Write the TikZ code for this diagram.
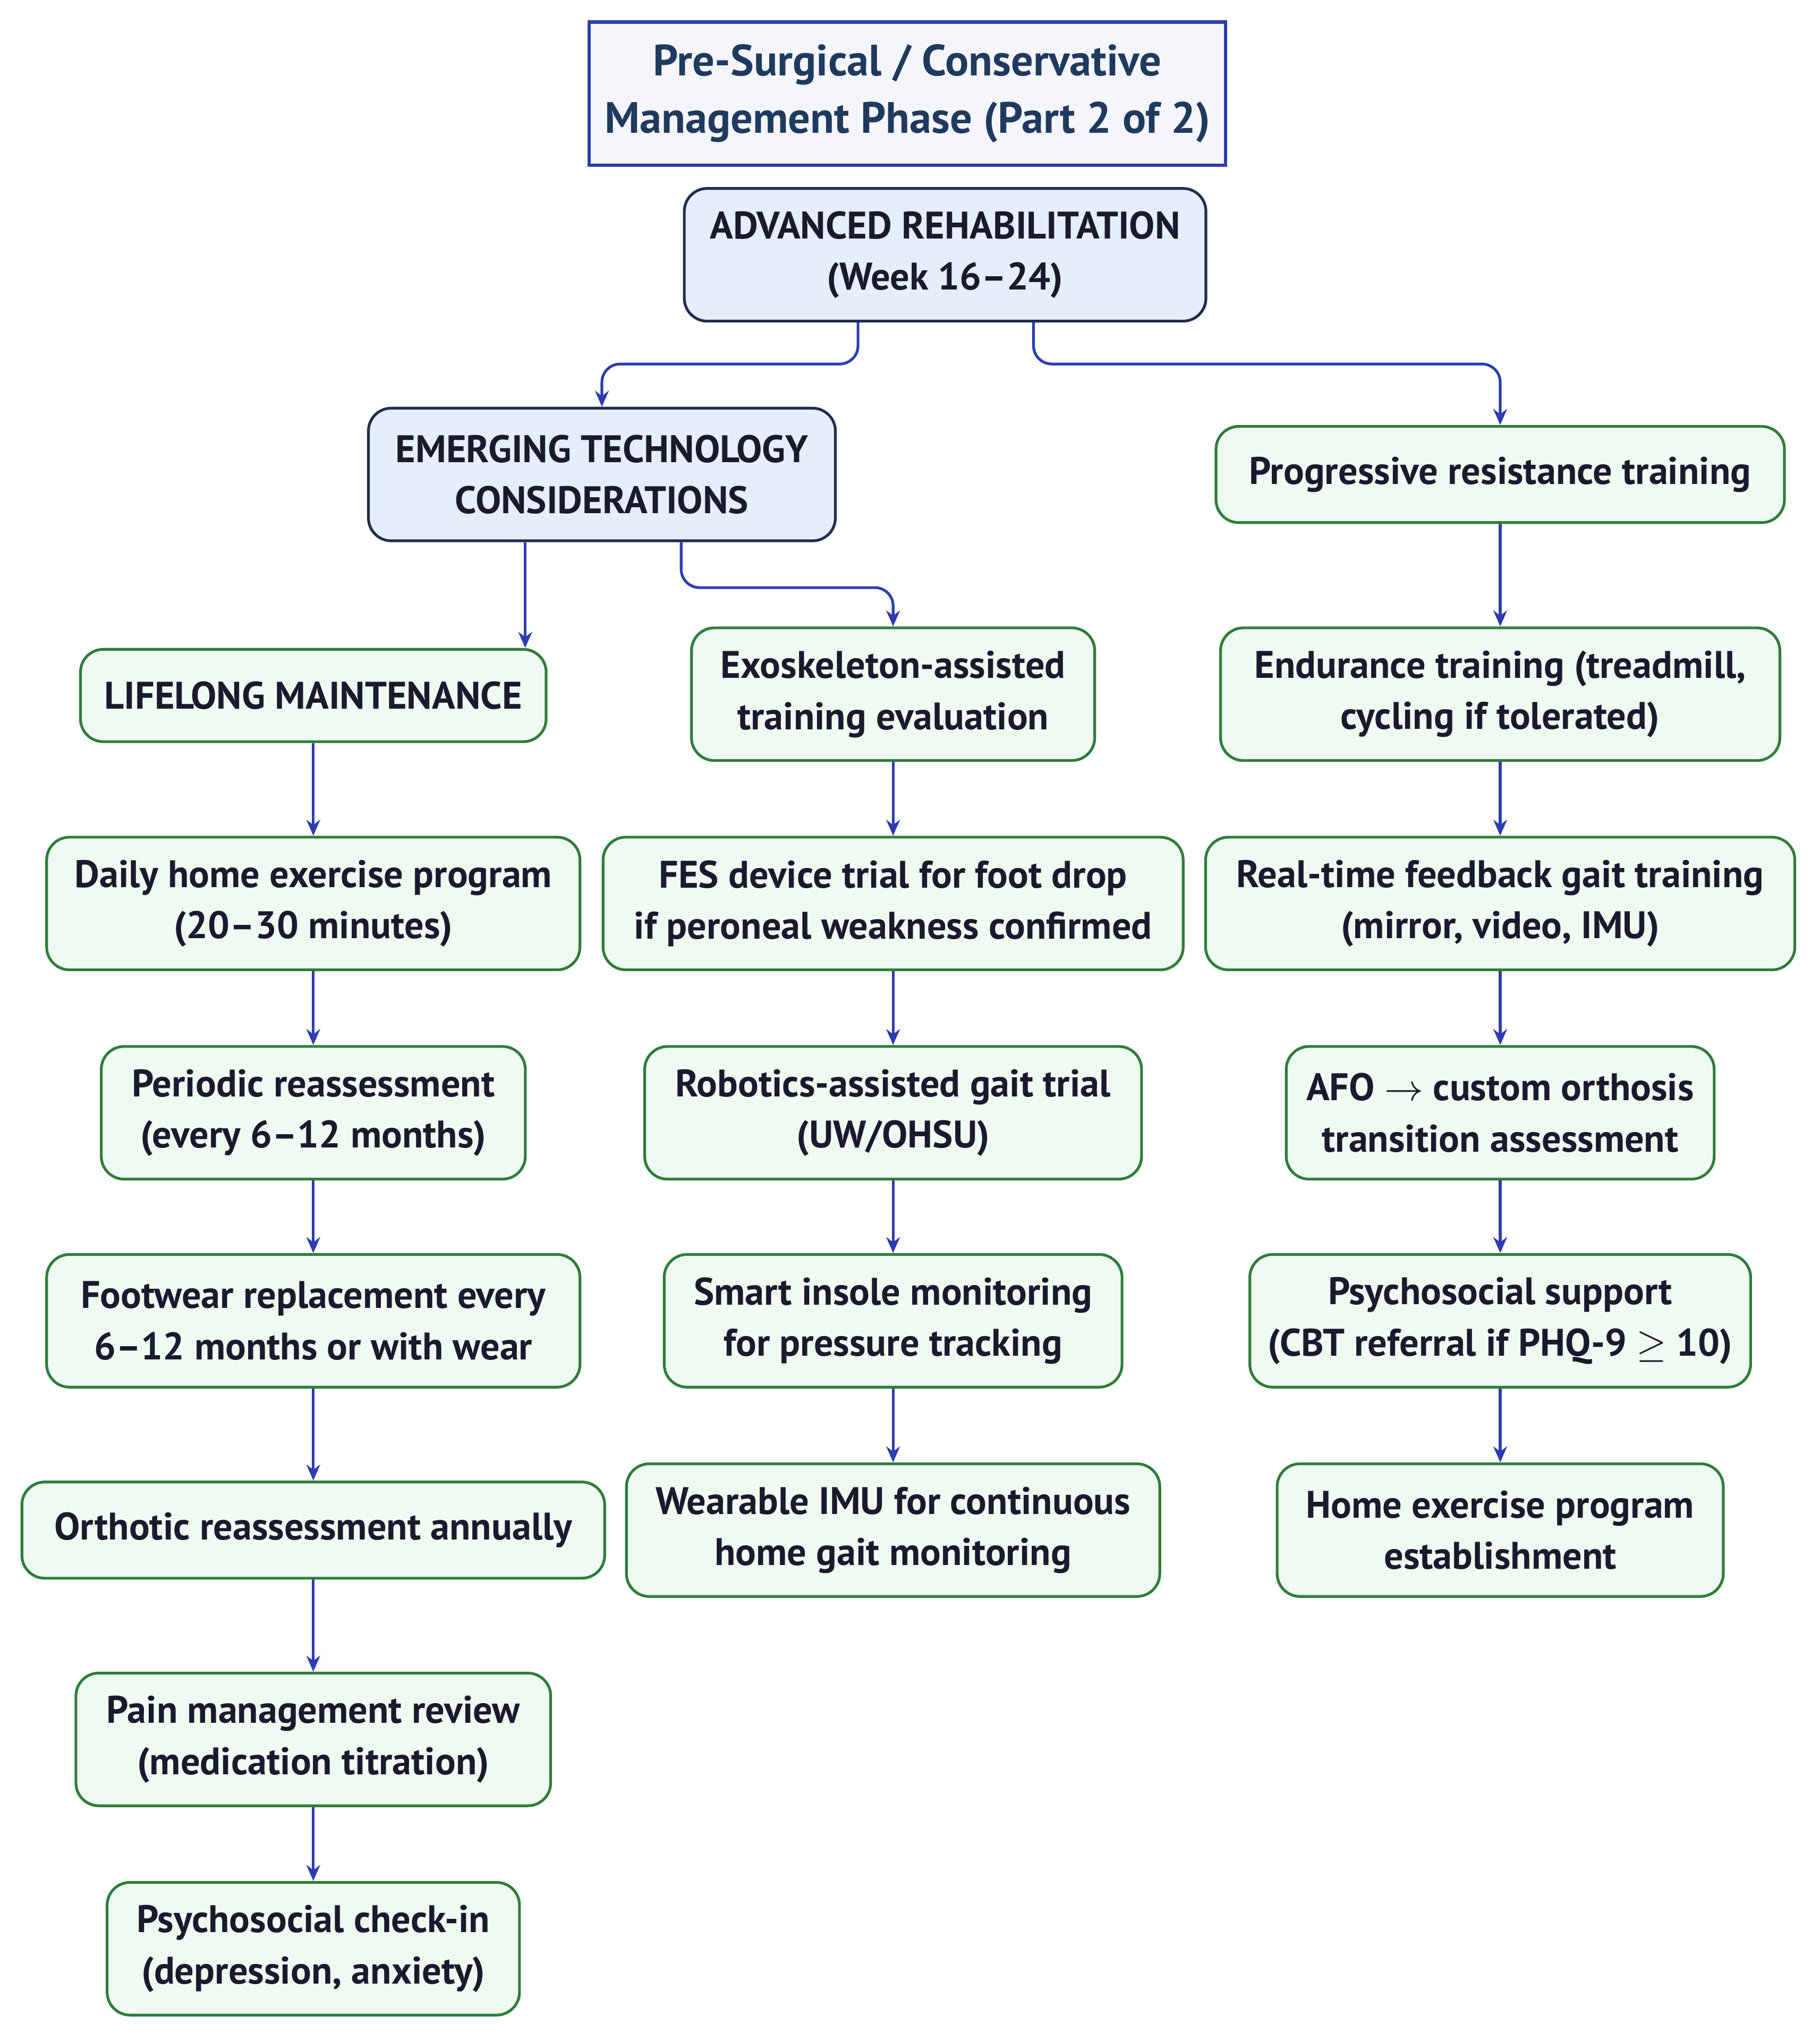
\documentclass[tikz,border=0pt]{standalone}
\usepackage{fontspec}
\setmainfont{PT Sans}
\usepackage{xcolor}
\usetikzlibrary{arrows.meta, positioning, calc}

\definecolor{greenfill}{HTML}{EFFAF1}
\definecolor{greenline}{HTML}{2E7D3A}
\definecolor{bluefill}{HTML}{E6EEFB}
\definecolor{blueline}{HTML}{1F2D4F}
\definecolor{titlefill}{HTML}{F5F6FC}
\definecolor{titleline}{HTML}{2D3DB0}
\definecolor{arrowblue}{HTML}{2D3DB0}
\definecolor{textdark}{HTML}{1A1A2E}
\definecolor{titletext}{HTML}{1F3A5F}

\begin{document}
\begin{tikzpicture}[
    x=0.01cm, y=-0.01cm,
    step box/.style={rectangle, rounded corners=5pt, draw=greenline, fill=greenfill, line width=0.6pt, align=center, text=textdark, font=\bfseries\fontsize{8.4}{11.2}\selectfont, minimum height=1.02cm, inner sep=2pt},
    phase box/.style={step box, draw=blueline, fill=bluefill},
    title box/.style={rectangle, draw=titleline, fill=titlefill, line width=0.7pt, align=center, text=titletext, font=\bfseries\fontsize{9.6}{12.6}\selectfont, minimum height=1.1cm},
    arrow/.style={-{Stealth[length=3.5pt, width=3pt]}, draw=arrowblue, line width=0.6pt, rounded corners=4pt}
]
\useasboundingbox (0,0) rectangle (1400,1570);

% Header
\node[title box, minimum width=4.87cm] (title) at (698,72) {Pre-Surgical / Conservative\\Management Phase (Part 2 of 2)};
\node[phase box, minimum width=4.01cm] (adv) at (727,196) {ADVANCED REHABILITATION\\(Week 16--24)};

% Second level
\node[phase box, minimum width=3.59cm] (emerg) at (463,365) {EMERGING TECHNOLOGY\\CONSIDERATIONS};
\node[step box, minimum width=4.37cm, minimum height=0.74cm] (prog) at (1154,365) {Progressive resistance training};

% Left column
\node[step box, minimum width=3.58cm, minimum height=0.71cm] (life) at (241,535) {LIFELONG MAINTENANCE};
\node[step box, minimum width=4.10cm] (daily) at (241,695) {Daily home exercise program\\(20--30 minutes)};
\node[step box, minimum width=3.26cm] (period) at (241,856) {Periodic reassessment\\(every 6--12 months)};
\node[step box, minimum width=4.10cm] (foot) at (241,1016) {Footwear replacement every\\6--12 months or with wear};
\node[step box, minimum width=4.48cm, minimum height=0.74cm] (orth) at (241,1177) {Orthotic reassessment annually};
\node[step box, minimum width=3.65cm] (pain) at (241,1338) {Pain management review\\(medication titration)};
\node[step box, minimum width=3.17cm] (psyc) at (241,1499) {Psychosocial check-in\\(depression, anxiety)};

% Middle column
\node[step box, minimum width=3.10cm] (exo) at (687,534) {Exoskeleton-assisted\\training evaluation};
\node[step box, minimum width=4.46cm] (fes) at (687,695) {FES device trial for foot drop\\if peroneal weakness confirmed};
\node[step box, minimum width=3.82cm] (robot) at (687,856) {Robotics-assisted gait trial\\(UW/OHSU)};
\node[step box, minimum width=3.52cm] (insole) at (687,1016) {Smart insole monitoring\\for pressure tracking};
\node[step box, minimum width=4.10cm] (imu) at (687,1177) {Wearable IMU for continuous\\home gait monitoring};

% Right column
\node[step box, minimum width=4.30cm] (endur) at (1154,534) {Endurance training (treadmill,\\cycling if tolerated)};
\node[step box, minimum width=4.53cm] (feed) at (1154,695) {Real-time feedback gait training\\(mirror, video, IMU)};
\node[step box, minimum width=3.29cm] (afo) at (1154,856) {AFO $\rightarrow$ custom orthosis\\transition assessment};
\node[step box, minimum width=3.85cm] (psys) at (1154,1016) {Psychosocial support\\(CBT referral if PHQ-9 $\geq$ 10)};
\node[step box, minimum width=3.43cm] (home) at (1154,1177) {Home exercise program\\establishment};

% Branches
\draw[arrow] (adv.south -| 660,0) |- (540,280) -| (emerg.north);
\draw[arrow] (adv.south -| 795,0) |- (900,280) -| (prog.north);
\draw[arrow] (emerg.south -| 404,0) -- (life.north -| 404,0);
\draw[arrow] (emerg.south -| 524,0) |- (600,452) -| (exo.north);

% Chains
\foreach \a/\b in {life/daily, daily/period, period/foot, foot/orth, orth/pain, pain/psyc,
                   exo/fes, fes/robot, robot/insole, insole/imu,
                   prog/endur, endur/feed, feed/afo, afo/psys, psys/home}
  \draw[arrow] (\a) -- (\b);

\end{tikzpicture}
\end{document}
